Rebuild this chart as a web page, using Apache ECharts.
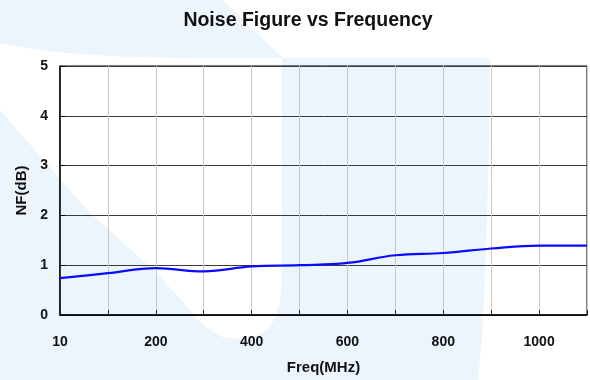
<!DOCTYPE html>
<html>
<head>
<meta charset="utf-8">
<script src="https://cdn.jsdelivr.net/npm/echarts@6/dist/echarts.min.js"></script>
<style>
html,body{margin:0;padding:0;background:#edf5fc;}
#chart{width:590px;height:380px;}
</style>
</head>
<body>
<div id="chart"></div>
<script>
// Data
const freqCategories = ['10','100','200','300','400','500','600','700','800','900','1000','1100'];
const nfValues = [0.74, 0.84, 0.94, 0.875, 0.975, 1.0, 1.045, 1.2, 1.245, 1.335, 1.395, 1.395];
const yMin = 0, yMax = 5, yStep = 1;

const FONT = "'Liberation Sans', Arial, Helvetica, sans-serif";
const chart = echarts.init(document.getElementById('chart'), null, {renderer: 'canvas'});

// Decorative watermark (white areas over light-blue background)
const swoosh = [[0,43],[30,48.5],[60,52.5],[120,56.5],[180,58],[282,58],[282,285],[280,302],[276,316],[270,327],[262,333],[250,338],[235,339],[222,337],[210,330],[198,320],[190,310],[157,273],[90,213],[0,110]];
const rightArea = [[223,0],[590,0],[590,380],[478,380],[482,340],[486,250],[489,150],[490,58],[283,58]];

chart.setOption({
  backgroundColor: '#edf5fc',
  animation: false,
  textStyle: {fontFamily: FONT},
  graphic: [
    {type: 'polygon', z: -100, silent: true, shape: {points: swoosh}, style: {fill: '#ffffff'}},
    {type: 'polygon', z: -100, silent: true, shape: {points: rightArea}, style: {fill: '#ffffff'}}
  ],
  title: {
    text: 'Noise Figure vs Frequency',
    left: 303, top: 6, textAlign: 'center',
    textStyle: {fontFamily: FONT, fontSize: 19.5, fontWeight: 'bold', color: '#111'}
  },
  grid: {
    left: 60, right: 3, top: 66, bottom: 63,
    show: true, borderColor: '#000', borderWidth: 1, backgroundColor: 'transparent'
  },
  xAxis: {
    type: 'category',
    data: freqCategories,
    boundaryGap: false,
    name: 'Freq(MHz)', nameLocation: 'middle', nameGap: 45,
    nameTextStyle: {fontFamily: FONT, fontSize: 15, fontWeight: 'bold', color: '#111'},
    axisLine: {lineStyle: {color: '#000', width: 1.5}},
    axisTick: {show: true, inside: true, length: 5, interval: 0, lineStyle: {color: '#222'}},
    axisLabel: {interval: 1, margin: 20, fontFamily: FONT, fontSize: 14, fontWeight: 'bold', color: '#111'},
    splitLine: {show: true, interval: 0, lineStyle: {color: '#c8c8c8', width: 1}}
  },
  yAxis: {
    type: 'value', min: yMin, max: yMax, interval: yStep,
    name: 'NF(dB)', nameLocation: 'middle', nameGap: 29,
    nameTextStyle: {fontFamily: FONT, fontSize: 15, fontWeight: 'bold', color: '#111'},
    axisLine: {show: true, lineStyle: {color: '#000', width: 1.5}},
    axisTick: {show: true, inside: true, length: 5, lineStyle: {color: '#000'}},
    axisLabel: {margin: 12, fontFamily: FONT, fontSize: 14, fontWeight: 'bold', color: '#111'},
    splitLine: {show: true, lineStyle: {color: '#3a3a3a', width: 1}}
  },
  series: [{
    type: 'line',
    data: nfValues,
    smooth: 0.4,
    symbol: 'none',
    lineStyle: {color: '#0a0aff', width: 2.2}
  }]
});
</script>
</body>
</html>
